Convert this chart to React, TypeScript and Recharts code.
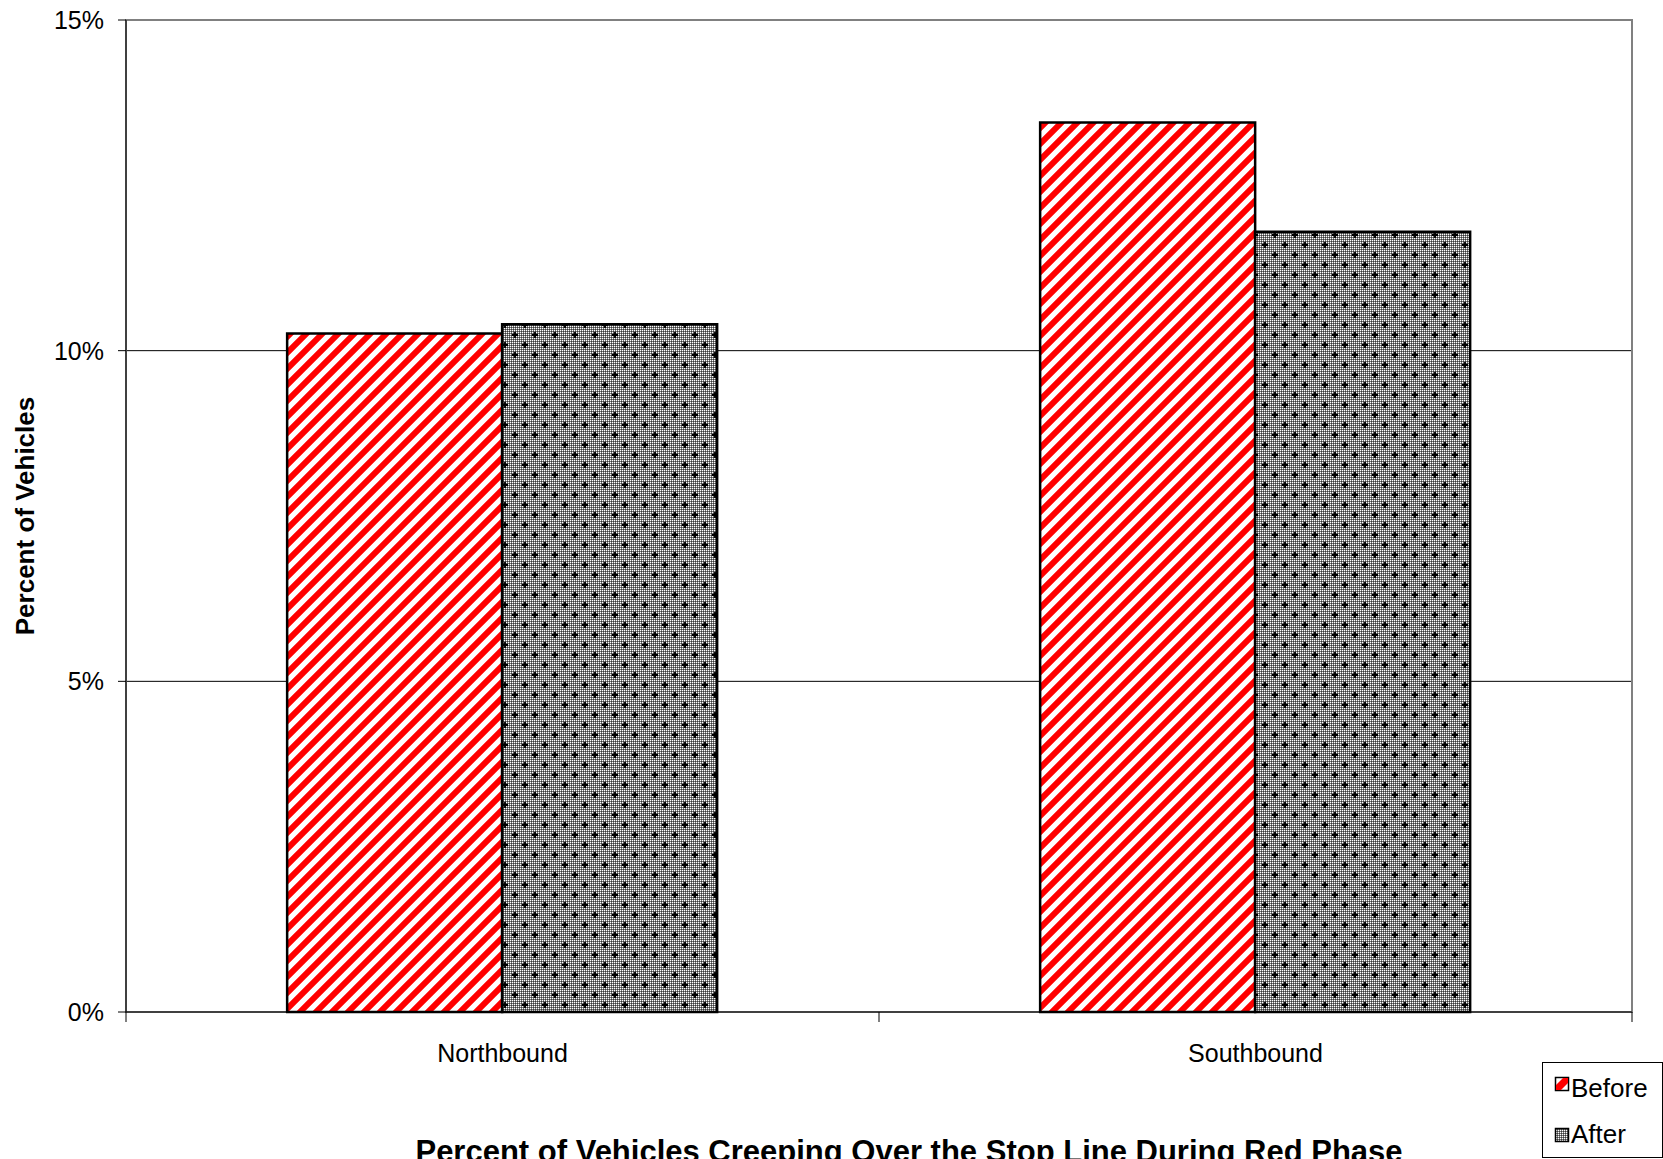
import React from "react";
import { BarChart, Bar, XAxis, YAxis, CartesianGrid, ReferenceArea } from "recharts";

// Share of vehicles creeping over the stop line, by approach
const categories = ["Northbound", "Southbound"];
const beforeValues = [10.26, 13.45];
const afterValues = [10.4, 11.8];
const seriesNames = ["Before", "After"];
const yTicks = [0, 5, 10, 15];
const yTitle = "Percent of Vehicles";
const chartTitle = "Percent of Vehicles Creeping Over the Stop Line During Red Phase";

const data = categories.map((name, i) => ({
  name,
  before: beforeValues[i],
  after: afterValues[i],
}));

const FONT = '"Liberation Sans", Arial, Helvetica, sans-serif';

// category ticks sit on the band edges, labels in the middle
function CategoryTick(props: any) {
  const { x, y, payload, index, visibleTicksCount } = props;
  const half = payload?.offset ?? 376;
  const axisY = y - 32;
  const last = index === (visibleTicksCount ?? categories.length) - 1;
  return (
    <g>
      <line x1={x - half} y1={axisY} x2={x - half} y2={axisY + 10} stroke="#000" />
      {last && <line x1={x + half} y1={axisY} x2={x + half} y2={axisY + 10} stroke="#000" />}
      <text x={x} y={y} dy="0.71em" textAnchor="middle" fontSize={25} fill="#000" fontFamily={FONT}>
        {payload.value}
      </text>
    </g>
  );
}

export default function App() {
  return (
    <div style={{ position: "absolute", left: 0, top: 0, width: 1663, height: 1159, background: "#fff" }}>
      <BarChart
        width={1663}
        height={1159}
        data={data}
        margin={{ top: 20, right: 31, bottom: 0, left: 0 }}
        barCategoryGap="21.4%"
        barGap={0}
        style={{ fontFamily: FONT }}
      >
        <defs>
          <pattern id="beforeFill" width={16} height={16} patternUnits="userSpaceOnUse">
            <rect width={16} height={16} fill="#fff" />
            <path d="M-4,4 L4,-4 M0,16 L16,0 M12,20 L20,12" stroke="#ff0000" strokeWidth={6} />
          </pattern>
          <pattern id="afterChecker" width={2} height={2} patternUnits="userSpaceOnUse">
            <rect width={2} height={2} fill="#7a7a7a" />
            <rect width={1} height={1} fill="#fff" />
            <rect x={1} y={1} width={1} height={1} fill="#3a3a3a" />
          </pattern>
          <pattern id="afterFill" width={20} height={20} patternUnits="userSpaceOnUse">
            <rect width={20} height={20} fill="url(#afterChecker)" />
            <path d="M5,2 v6 M2,5 h6 M15,12 v6 M12,15 h6" stroke="#000" strokeWidth={1.8} />
            <rect x={3.75} y={3.75} width={2.5} height={2.5} fill="#000" />
            <rect x={13.75} y={13.75} width={2.5} height={2.5} fill="#000" />
          </pattern>
        </defs>
        <CartesianGrid horizontal vertical={false} stroke="#000" strokeWidth={1} />
        <ReferenceArea
          x1={categories[0]}
          x2={categories[categories.length - 1]}
          y1={yTicks[0]}
          y2={yTicks[yTicks.length - 1]}
          fill="#fff"
          fillOpacity={0}
          stroke="#808080"
          strokeWidth={2}
          ifOverflow="visible"
        />
        <XAxis
          dataKey="name"
          height={147}
          interval={0}
          axisLine={{ stroke: "#000", strokeWidth: 1 }}
          tickLine={false}
          tickSize={10}
          tickMargin={22}
          tick={<CategoryTick />}
        />
        <YAxis
          type="number"
          domain={[0, 15]}
          ticks={yTicks}
          width={126}
          tickFormatter={(v) => `${v}%`}
          axisLine={{ stroke: "#000", strokeWidth: 1 }}
          tickLine={{ stroke: "#000" }}
          tickSize={8}
          tickMargin={14}
          tick={{ fontSize: 25, fill: "#000", fontFamily: FONT }}
        />
        <Bar dataKey="before" name={seriesNames[0]} fill="url(#beforeFill)" stroke="#000" strokeWidth={2.5} isAnimationActive={false} />
        <Bar dataKey="after" name={seriesNames[1]} fill="url(#afterFill)" stroke="#000" strokeWidth={2.5} isAnimationActive={false} />

        <text
          x={25}
          y={516}
          transform="rotate(-90, 25, 516)"
          textAnchor="middle"
          dominantBaseline="central"
          fontSize={26}
          fontWeight="bold"
          fill="#000"
          fontFamily={FONT}
        >
          {yTitle}
        </text>
        <text x={909} y={1162} textAnchor="middle" fontSize={31} fontWeight="bold" fill="#000" fontFamily={FONT}>
          {chartTitle}
        </text>

        {/* legend */}
        <g>
          <rect x={1542.5} y={1062.5} width={120} height={95} fill="#fff" stroke="#000" strokeWidth={1} />
          <rect x={1555.5} y={1077.5} width={13} height={13} fill="#fff" stroke="#000" strokeWidth={1.5} />
          <polygon points="1556,1085 1563,1078 1568,1078 1568,1083 1561,1090 1556,1090" fill="#ff0000" />
          <text x={1571} y={1097} fontSize={26} fill="#000" fontFamily={FONT}>
            {seriesNames[0]}
          </text>
          <rect x={1555.5} y={1128.5} width={13} height={13} fill="url(#afterChecker)" stroke="#000" strokeWidth={1.5} />
          <text x={1571} y={1143} fontSize={26} fill="#000" fontFamily={FONT}>
            {seriesNames[1]}
          </text>
        </g>
      </BarChart>
    </div>
  );
}
